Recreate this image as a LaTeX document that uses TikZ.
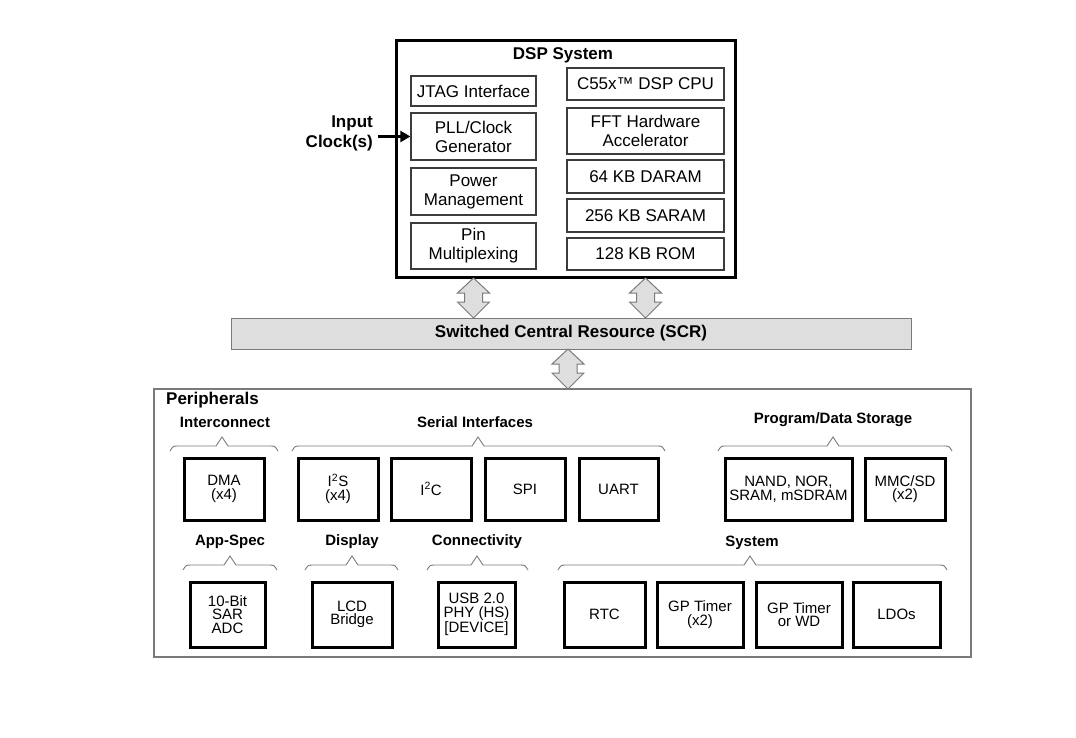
\documentclass[tikz,border=0pt]{standalone}
\usepackage{fontspec}
\setmainfont{Liberation Sans}
\usetikzlibrary{arrows.meta}
\definecolor{lightfill}{HTML}{DEDEDE}
\definecolor{midgray}{HTML}{7A7A7A}
\definecolor{boxgray}{HTML}{3C3C3C}
\newcommand\perbrace[4]{%
  \draw[bracestyle] (#1,{#4+5}) .. controls ({#1+3},#4) .. ({#1+8},#4)
    -- ({#3-6},#4) -- (#3,{#4-9}) -- ({#3+6},#4) -- ({#2-8},#4)
    .. controls ({#2-3},#4) .. (#2,{#4+5});}
\begin{document}
\begin{tikzpicture}[x=1pt,y=-1pt,
  dspbox/.style={draw=boxgray,line width=1.3pt,inner sep=1pt,align=center,
    font=\fontsize{17}{19}\selectfont},
  perbox/.style={draw=black,line width=3pt,inner sep=0.5pt,align=center,
    font=\fontsize{15}{13.5}\selectfont},
  subtitle/.style={font=\fontsize{15}{17}\selectfont\bfseries},
  bigtitle/.style={font=\fontsize{17}{20}\selectfont\bfseries},
  bracestyle/.style={draw=midgray,line width=0.9pt},
  dblarrow/.style={fill=lightfill,draw=midgray,line width=1pt,line join=miter},
  clkarrow/.style={line width=2.8pt,-{Triangle[length=10pt,width=11pt]}}]
\useasboundingbox (0,0) rectangle (1076,737);

% DSP system
\node[draw=black,line width=3pt,minimum width=339pt,minimum height=237pt,inner sep=0pt] (dsp) at (565.5,158.5) {};
\node[bigtitle] (dsptitle) at (563,55) {DSP System};

\node[dspbox,minimum width=125pt,minimum height=30pt] (jtag) at (473.5,91) {JTAG Interface};
\node[dspbox,minimum width=125pt,minimum height=47pt] (pll) at (473.5,136.5) {PLL/Clock\\Generator};
\node[dspbox,minimum width=125pt,minimum height=47pt] (pwr) at (473.5,191.5) {Power\\Management};
\node[dspbox,minimum width=125pt,minimum height=46pt] (pin) at (473.5,246) {Pin\\Multiplexing};

\node[dspbox,minimum width=157pt,minimum height=32pt] (cpu) at (645.5,84) {C55x™ DSP CPU};
\node[dspbox,minimum width=157pt,minimum height=46pt] (fft) at (645.5,131) {FFT Hardware\\Accelerator};
\node[dspbox,minimum width=157pt,minimum height=33pt] (daram) at (645.5,176.5) {64 KB DARAM};
\node[dspbox,minimum width=157pt,minimum height=33pt] (saram) at (645.5,215.5) {256 KB SARAM};
\node[dspbox,minimum width=157pt,minimum height=32pt] (rom) at (645.5,254) {128 KB ROM};

% input clock
\node[bigtitle,align=right,anchor=east,inner sep=0pt] (clk) at (373,133.5) {Input\\Clock(s)};
\draw[clkarrow] ([xshift=5pt]clk.east |- pll.west) -- (pll.west);

% SCR
\node[fill=lightfill,draw=midgray,line width=1pt,minimum width=680pt,minimum height=31pt,
  font=\fontsize{17}{20}\selectfont\bfseries] (scr) at (571,333.5) {Switched Central Resource (SCR)};

% double arrows DSP <-> SCR
\coordinate (ua) at (473.5,278);
\coordinate (ub) at (645.5,278);
\coordinate (uc) at (568,349);
\foreach \c in {ua,ub,uc}{
  \filldraw[dblarrow] (\c) -- ++(-16,15) -- ++(7,0) -- ++(0,9) -- ++(-7,0)
    -- ++(16,16) -- ++(16,-16) -- ++(-7,0) -- ++(0,-9) -- ++(7,0) -- cycle;
}

% peripherals frame
\node[draw=midgray,line width=1.2pt,minimum width=817pt,minimum height=268pt,inner sep=0pt] (per) at (562.5,523) {};
\node[bigtitle,anchor=west,inner sep=0pt] (pertitle) at (166,400) {Peripherals};

% subtitles
\node[subtitle] (tic) at (225,422) {Interconnect};
\node[subtitle] (tser) at (475,422) {Serial Interfaces};
\node[subtitle] (tprog) at (833,420) {Program/Data Storage};
\node[subtitle] (tapp) at (230,542) {App-Spec};
\node[subtitle] (tdisp) at (352,542) {Display};
\node[subtitle] (tcon) at (477,542) {Connectivity};
\node[subtitle] (tsys) at (752,543) {System};

% braces
\perbrace{170}{278}{222}{446}
\perbrace{292}{665}{478}{446}
\perbrace{718}{952}{833}{446}
\perbrace{183}{277}{230}{565}
\perbrace{305}{398}{352}{565}
\perbrace{427}{528}{477}{565}
\perbrace{558}{947}{750}{565}

% peripheral boxes, row 1
\node[perbox,minimum width=80pt,minimum height=62pt] (dma) at (224,489) {DMA\\(x4)};
\node[perbox,minimum width=80pt,minimum height=62pt] (i2s) at (338,489) {I\textsuperscript{2}S\\(x4)};
\node[perbox,minimum width=80pt,minimum height=62pt] (i2c) at (431,489) {I\textsuperscript{2}C};
\node[perbox,minimum width=80pt,minimum height=62pt] (spi) at (525,489) {SPI};
\node[perbox,minimum width=79pt,minimum height=62pt] (uart) at (618.5,489) {UART};
\node[perbox,minimum width=127pt,minimum height=62pt] (nand) at (788.5,489) {NAND, NOR,\\SRAM, mSDRAM};
\node[perbox,minimum width=80pt,minimum height=62pt] (mmc) at (905,489) {MMC/SD\\(x2)};

% peripheral boxes, row 2
\node[perbox,minimum width=75pt,minimum height=65pt] (adc) at (227.5,614.5) {10-Bit\\SAR\\ADC};
\node[perbox,minimum width=80pt,minimum height=65pt] (lcd) at (352,614.5) {LCD\\Bridge};
\node[perbox,minimum width=77pt,minimum height=65pt] (usb) at (476.5,614.5) {USB 2.0\\PHY (HS)\\[0pt][DEVICE]};
\node[perbox,minimum width=81pt,minimum height=65pt] (rtc) at (604.5,614.5) {RTC};
\node[perbox,minimum width=86pt,minimum height=65pt] (gpt) at (700,614.5) {GP Timer\\(x2)};
\node[perbox,minimum width=86pt,minimum height=65pt] (gpwd) at (799,614.5) {GP Timer\\or WD};
\node[perbox,minimum width=87pt,minimum height=65pt] (ldo) at (896.5,614.5) {LDOs};
\end{tikzpicture}
\end{document}
